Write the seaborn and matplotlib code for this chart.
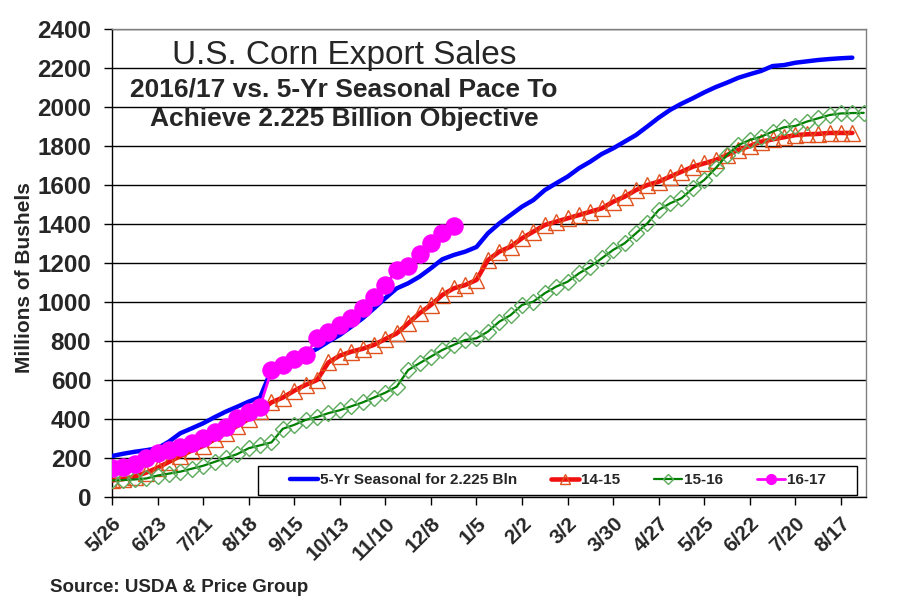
import matplotlib
matplotlib.use('Agg')
import matplotlib.pyplot as plt
from matplotlib.lines import Line2D
from matplotlib.patches import Rectangle
import seaborn as sns

# weekly cumulative export sales, millions of bushels (week 0 = 5/26)
seasonal = [210, 222, 232, 240, 250, 284, 327, 352, 378, 409, 438, 463, 489, 511, 651,
            668, 690, 730, 760, 797, 831, 873, 916, 967, 1020,
            1070, 1096, 1130, 1173, 1219, 1241, 1258, 1282, 1352, 1403, 1446, 1489, 1523,
            1574, 1609, 1643, 1686, 1720, 1759, 1788, 1822, 1856,
            1900, 1945, 1985, 2017, 2045, 2075, 2102, 2125, 2150, 2168, 2185, 2210, 2215,
            2227, 2234, 2241, 2246, 2250, 2253]
sales_14_15 = [85, 92, 105, 125, 150, 180, 210, 238, 262, 295, 330, 365, 400, 440, 485,
               510, 545, 575, 600, 690, 725, 745, 760, 780, 810,
               839, 891, 942, 985, 1036, 1070, 1087, 1113, 1215, 1258, 1284, 1327, 1361,
               1395, 1412, 1429, 1446, 1463, 1480, 1514, 1540, 1574,
               1600, 1617, 1643, 1668, 1694, 1711, 1728, 1754, 1780, 1800, 1822, 1834, 1845,
               1856, 1860, 1862, 1867, 1867, 1867]
sales_15_16 = [85, 87, 90, 95, 110, 120, 130, 145, 160, 180, 200, 220, 250, 265, 280,
               350, 370, 395, 410, 430, 445, 465, 485, 510, 535,
               566, 651, 686, 720, 754, 780, 805, 814, 848, 899, 933, 985, 1002, 1045, 1079,
               1104, 1147, 1181, 1224, 1267, 1301, 1352, 1403, 1472, 1506,
               1532, 1583, 1626, 1686, 1754, 1805, 1831, 1848, 1874, 1896, 1903, 1925, 1942,
               1959, 1967, 1969, 1970]
sales_16_17 = [147, 156, 170, 198, 224, 241, 258, 275, 301, 335, 361, 404, 438, 463, 651,
               677, 706, 728, 814, 848, 882, 916, 967, 1027, 1087, 1164, 1186, 1246, 1301,
               1356, 1390]

tick_labels = ['5/26', '6/23', '7/21', '8/18', '9/15', '10/13', '11/10', '12/8', '1/5',
               '2/2', '3/2', '3/30', '4/27', '5/25', '6/22', '7/20', '8/17']
series_names = ['5-Yr Seasonal for 2.225 Bln', '14-15', '15-16', '16-17']

sns.set_style('white')
plt.rcParams['font.family'] = ['Liberation Sans', 'DejaVu Sans']

fig = plt.figure(figsize=(8.97, 6.12), dpi=100)
ax = fig.add_axes([112 / 897, 1 - 497 / 612, 754 / 897, 468 / 612])

# 선 그리기
sns.lineplot(x=list(range(len(seasonal))), y=seasonal, ax=ax, color='#0000FF', lw=3.2, zorder=3)
sns.lineplot(x=list(range(len(sales_14_15))), y=sales_14_15, ax=ax, color='#F01010', lw=3.3,
             marker='^', markersize=11, markerfacecolor='none', markeredgecolor='#E0521E',
             markeredgewidth=1.0, zorder=4)
sns.lineplot(x=list(range(len(sales_15_16))), y=sales_15_16, ax=ax, color='#008000', lw=1.6,
             marker='D', markersize=8.5, markerfacecolor='none', markeredgecolor='#5CAB5C',
             markeredgewidth=1.0, zorder=5)
sns.lineplot(x=list(range(len(sales_16_17))), y=sales_16_17, ax=ax, color='#FF00FF', lw=2,
             marker='o', markersize=12.5, markerfacecolor='#FF00FF', markeredgecolor='#FF00FF',
             zorder=6)

ax.set_xlim(0, 66.2)
ax.set_ylim(0, 2400)
ax.set_yticks(range(0, 2401, 200))
ax.set_yticklabels([str(v) for v in range(0, 2401, 200)], fontsize=17.5, fontweight='bold')
ax.set_xticks(range(0, 4 * len(tick_labels), 4))
ax.set_xticklabels(tick_labels, fontsize=15, fontweight='bold', rotation=45,
                   ha='right', rotation_mode='anchor')
ax.tick_params(axis='both', direction='out', length=6, width=1, color='black',
               bottom=True, left=True)
ax.tick_params(axis='y', pad=9)
ax.tick_params(axis='x', pad=6)
ax.yaxis.grid(True, color='black', lw=1)
ax.xaxis.grid(False)
ax.set_axisbelow(True)
for side in ['left', 'bottom']:
    ax.spines[side].set_color('black')
    ax.spines[side].set_linewidth(1)
for side in ['top', 'right']:
    ax.spines[side].set_color('#808080')
    ax.spines[side].set_linewidth(1)
ax.set_xlabel('')
ax.set_ylabel('')

# 제목
ax.text(0.308, 0.944, 'U.S. Corn Export Sales', transform=ax.transAxes, ha='center',
        va='center', fontsize=24, zorder=10)
ax.text(0.308, 0.870, '2016/17 vs. 5-Yr Seasonal Pace To', transform=ax.transAxes,
        ha='center', va='center', fontsize=19, fontweight='bold', zorder=10)
ax.text(0.308, 0.808, 'Achieve 2.225 Billion Objective', transform=ax.transAxes,
        ha='center', va='center', fontsize=19, fontweight='bold', zorder=10)

# 범례 (테두리는 따로 그림)
ax.add_patch(Rectangle((146 / 754, 2 / 468), 599 / 754, 29 / 468, transform=ax.transAxes,
                       facecolor='white', edgecolor='black', lw=1, zorder=19))
handles = [
    Line2D([], [], color='#0000FF', lw=3.2),
    Line2D([], [], color='#F01010', lw=3.3, marker='^', markersize=7,
           markerfacecolor='none', markeredgecolor='#E0521E'),
    Line2D([], [], color='#008000', lw=1.6, marker='D', markersize=5,
           markerfacecolor='none', markeredgecolor='#5CAB5C'),
    Line2D([], [], color='#FF00FF', lw=2, marker='o', markersize=7,
           markerfacecolor='#FF00FF', markeredgecolor='#FF00FF'),
]
leg = ax.legend(handles, series_names, ncol=4, loc='center',
                bbox_to_anchor=(178 / 754, 2 / 468, 536 / 754, 29 / 468), mode='expand',
                borderaxespad=0, borderpad=0, frameon=False, handlelength=1.8,
                handletextpad=0.15, prop={'weight': 'bold', 'size': 11})
leg.set_zorder(20)

fig.text(25 / 897, 1 - 278 / 612, 'Millions of Bushels', rotation=90, ha='center',
         va='center', fontsize=15, fontweight='bold')
fig.text(50 / 897, 1 - 587 / 612, 'Source: USDA & Price Group', ha='left', va='center',
         fontsize=13.5, fontweight='bold')

fig.savefig('out.png', dpi=100)
